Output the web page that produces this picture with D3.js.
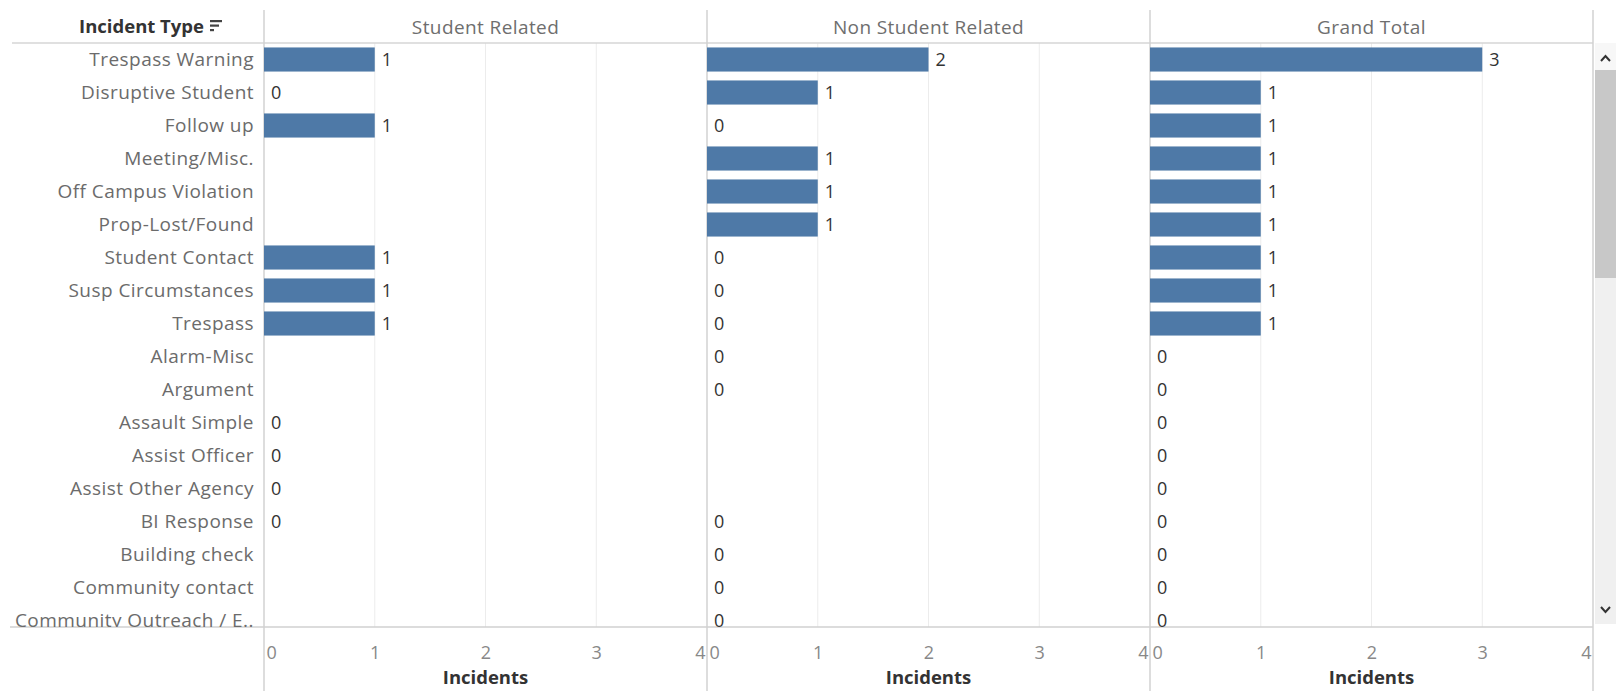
<!DOCTYPE html>
<html>
<head>
<meta charset="utf-8">
<script src="https://cdnjs.cloudflare.com/ajax/libs/d3/7.8.5/d3.min.js"></script>
<style>
	body { margin: 0; background: #fff; }
	svg { display: block; font-family: "Open Sans", sans-serif; }
	.row-label { fill: #6b6b6b; font-size: 19px; letter-spacing: 0.45px; }
	.col-label { fill: #6e6e6e; font-size: 19px; letter-spacing: 0.4px; }
	.value-label { fill: #333; font-size: 18px; }
	.tick-label { fill: #888; font-size: 18px; }
	.axis-title { fill: #333; font-size: 18.5px; font-weight: bold; }
</style>
</head>
<body>
<svg class="chart"></svg>
<script>
var categories = ['Trespass Warning', 'Disruptive Student', 'Follow up', 'Meeting/Misc.',
	'Off Campus Violation', 'Prop-Lost/Found', 'Student Contact', 'Susp Circumstances',
	'Trespass', 'Alarm-Misc', 'Argument', 'Assault Simple', 'Assist Officer',
	'Assist Other Agency', 'BI Response', 'Building check', 'Community contact',
	'Community Outreach / E..'];
var seriesNames = ['Student Related', 'Non Student Related', 'Grand Total'];
// null = no mark in that cell
var studentRelated = [1, 0, 1, null, null, null, 1, 1, 1, null, null, 0, 0, 0, 0, null, null, null];
var nonStudentRelated = [2, 1, 0, 1, 1, 1, 0, 0, 0, 0, 0, null, null, null, 0, 0, 0, 0];
var grandTotal = [3, 1, 1, 1, 1, 1, 1, 1, 1, 0, 0, 0, 0, 0, 0, 0, 0, 0];
var xTicks = [0, 1, 2, 3, 4];
var rowHeader = 'Incident Type';
var axisTitle = 'Incidents';

var chart = {
	initialize: function(){
		var self = this;
		self._render_view();
		return self;
	},
	_render_view: function(){
		var width = 1616;
		var height = 691;
		var headerY = 43;
		var axisY = 627;
		var rightEdge = 1593;
		var seriesValues = [studentRelated, nonStudentRelated, grandTotal];

		var svg = d3.select('svg.chart')
			.attr('width', width)
			.attr('height', height);

		var panel = d3.scaleBand()
			.domain(seriesNames)
			.range([264, rightEdge]);

		var y = d3.scaleBand()
			.domain(categories)
			.range([headerY, headerY + categories.length * 33])
			.paddingInner(0.27)
			.paddingOuter(0.135);

		svg.append('defs').append('clipPath')
			.attr('id', 'rows-clip')
			.append('rect')
			.attr('x', 0)
			.attr('y', headerY)
			.attr('width', width)
			.attr('height', axisY - headerY);

		// grid lines
		seriesNames.forEach(function(name){
			var x = d3.scaleLinear().domain([0, 4]).range([panel(name), panel(name) + panel.bandwidth()]);
			svg.append('g')
				.selectAll('line')
				.data([1, 2, 3])
				.enter()
				.append('line')
				.attr('x1', function(d){ return x(d); })
				.attr('x2', function(d){ return x(d); })
				.attr('y1', headerY)
				.attr('y2', axisY)
				.attr('stroke', '#ececec')
				.attr('stroke-width', 1);
		});

		// header line + axis line
		svg.append('line')
			.attr('x1', 12).attr('x2', rightEdge)
			.attr('y1', headerY).attr('y2', headerY)
			.attr('stroke', '#d6d6d6').attr('stroke-width', 1.5);
		svg.append('line')
			.attr('x1', 10).attr('x2', rightEdge)
			.attr('y1', axisY).attr('y2', axisY)
			.attr('stroke', '#d0d0d0').attr('stroke-width', 1.5);

		// panel dividers
		svg.append('g')
			.selectAll('line')
			.data(seriesNames.map(function(d){ return panel(d); }).concat([rightEdge]))
			.enter()
			.append('line')
			.attr('x1', function(d){ return d; })
			.attr('x2', function(d){ return d; })
			.attr('y1', 10)
			.attr('y2', height)
			.attr('stroke', '#d2d2d2')
			.attr('stroke-width', 1.5);

		// row header
		svg.append('text')
			.attr('x', 204)
			.attr('y', 27)
			.attr('dy', '0.35em')
			.attr('text-anchor', 'end')
			.attr('fill', '#333')
			.style('font-size', '18.5px')
			.style('font-weight', 'bold')
			.text(rowHeader);
		// sort icon
		var icon = svg.append('g').attr('transform', 'translate(210,20)');
		[12, 9, 4].forEach(function(len, i){
			icon.append('rect')
				.attr('x', 0).attr('y', i * 4.5)
				.attr('width', len).attr('height', 2.2)
				.attr('fill', '#444');
		});

		// row labels
		var rows = svg.append('g').attr('clip-path', 'url(#rows-clip)');
		rows.selectAll('.row-label')
			.data(categories)
			.enter()
			.append('text')
			.attr('class', 'row-label')
			.attr('x', 254)
			.attr('y', function(d){ return y(d) + y.bandwidth() / 2; })
			.attr('dy', '0.35em')
			.attr('text-anchor', 'end')
			.text(function(d){ return d; });

		seriesNames.forEach(function(name, s){
			var x = d3.scaleLinear().domain([0, 4]).range([panel(name), panel(name) + panel.bandwidth()]);
			var data = seriesValues[s].map(function(v, i){ return {cat: categories[i], value: v}; })
				.filter(function(d){ return d.value !== null; });

			svg.append('text')
				.attr('class', 'col-label')
				.attr('x', panel(name) + panel.bandwidth() / 2)
				.attr('y', 27)
				.attr('dy', '0.35em')
				.attr('text-anchor', 'middle')
				.text(name);

			var g = rows.append('g');
			g.selectAll('rect')
				.data(data.filter(function(d){ return d.value > 0; }))
				.enter()
				.append('rect')
				.attr('x', x(0))
				.attr('y', function(d){ return y(d.cat); })
				.attr('width', function(d){ return x(d.value) - x(0); })
				.attr('height', y.bandwidth())
				.attr('fill', '#4e79a7');
			g.selectAll('.value-label')
				.data(data)
				.enter()
				.append('text')
				.attr('class', 'value-label')
				.attr('x', function(d){ return x(d.value) + 7; })
				.attr('y', function(d){ return y(d.cat) + y.bandwidth() / 2; })
				.attr('dy', '0.36em')
				.text(function(d){ return d.value; });

			// axis
			var axis = svg.append('g')
				.attr('transform', 'translate(0,' + axisY + ')')
				.call(d3.axisBottom(x).tickValues(xTicks).tickFormat(d3.format('d')).tickSize(0).tickPadding(0));
			axis.select('.domain').remove();
			axis.attr('font-family', null).attr('font-size', null);
			axis.selectAll('text')
				.attr('class', 'tick-label')
				.attr('fill', null)
				.attr('y', 26)
				.attr('dy', '0.35em')
				.attr('text-anchor', function(d, i){ return i == 0 ? 'start' : (i == xTicks.length - 1 ? 'end' : 'middle'); })
				.attr('dx', function(d, i){ return i == 0 ? 2 : (i == xTicks.length - 1 ? -2 : 0); });

			svg.append('text')
				.attr('class', 'axis-title')
				.attr('x', panel(name) + panel.bandwidth() / 2)
				.attr('y', 678)
				.attr('dy', '0.35em')
				.attr('text-anchor', 'middle')
				.text(axisTitle);
		});

		// scrollbar
		var sb = svg.append('g').attr('transform', 'translate(1595,' + headerY + ')');
		sb.append('rect').attr('width', 21).attr('height', axisY - headerY - 3).attr('fill', '#f0f0f0');
		sb.append('rect').attr('y', 0).attr('width', 21).attr('height', 27).attr('fill', '#f7f7f7');
		sb.append('rect').attr('y', 27).attr('width', 21).attr('height', 208).attr('fill', '#c8c8c8');
		sb.append('path').attr('d', 'M6,18 L10.5,13 L15,18').attr('fill', 'none').attr('stroke', '#333').attr('stroke-width', 2);
		sb.append('path').attr('d', 'M6,564 L10.5,569 L15,564').attr('fill', 'none').attr('stroke', '#333').attr('stroke-width', 2);
	}
};
chart.initialize();
</script>
</body>
</html>
